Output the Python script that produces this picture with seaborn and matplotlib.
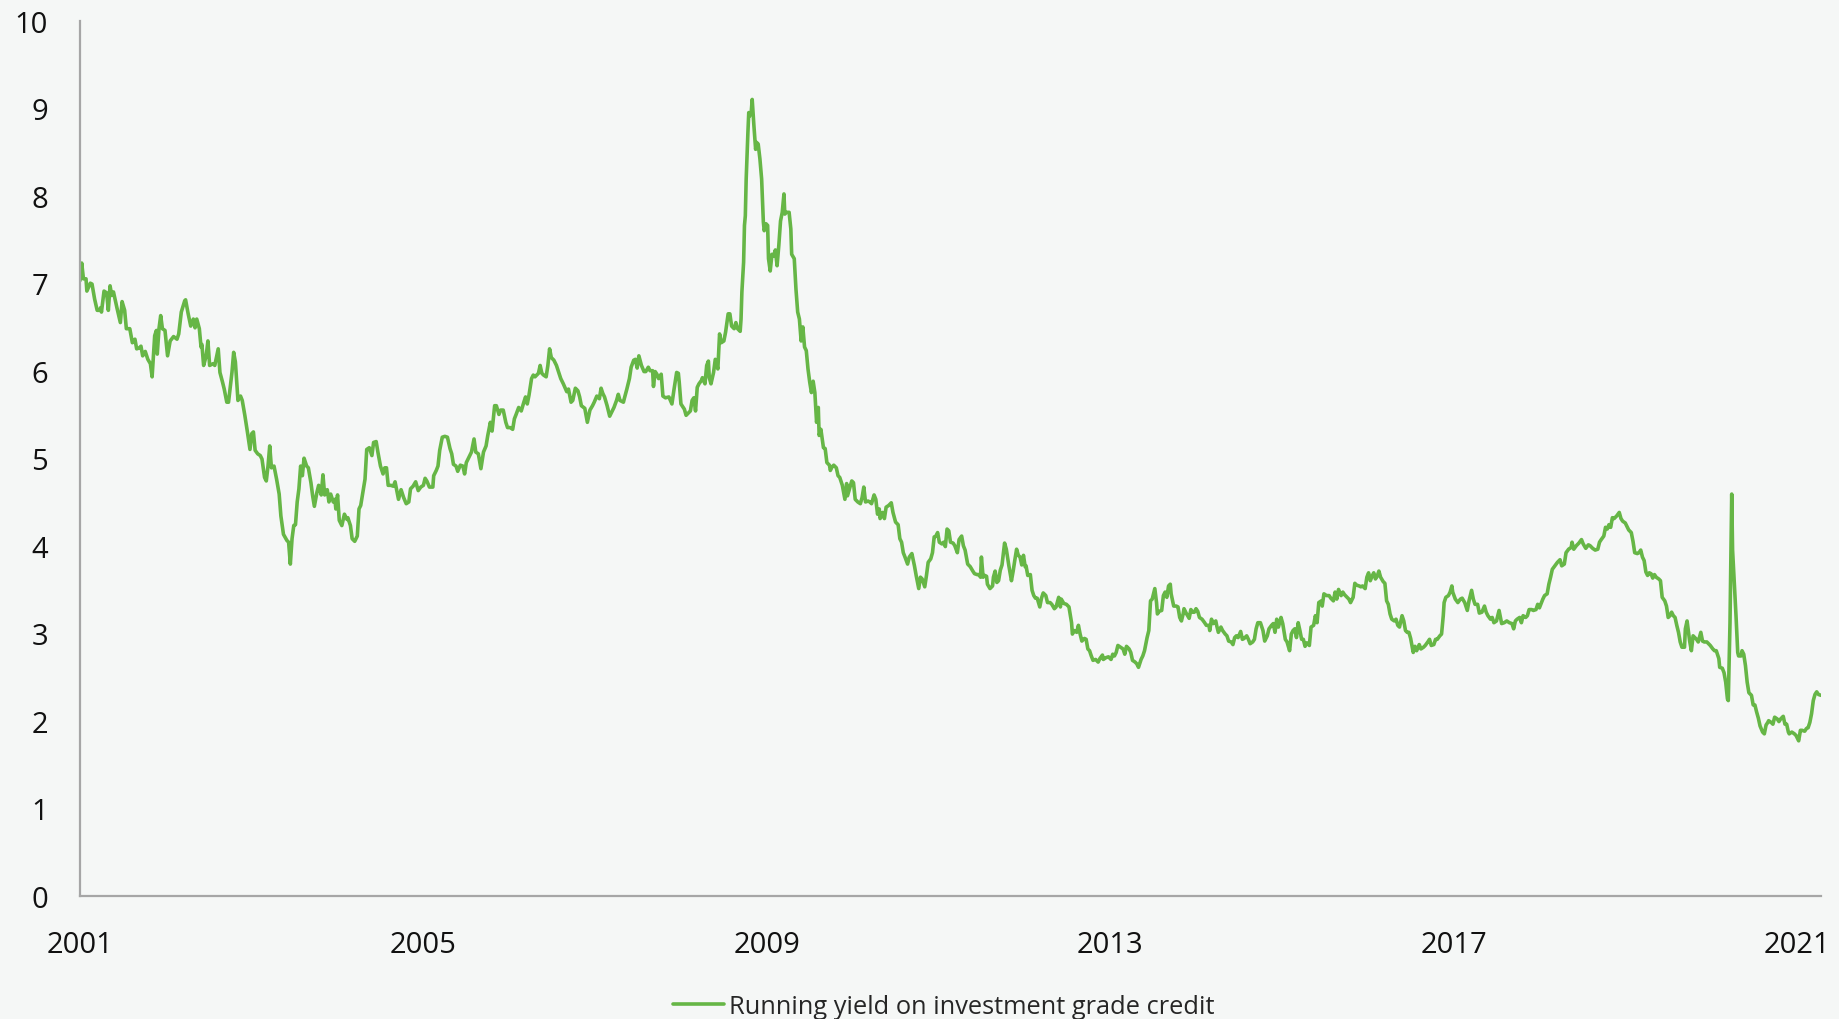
import numpy as np
import pandas as pd
import matplotlib
matplotlib.use("Agg")
import matplotlib.pyplot as plt
import seaborn as sns

# ---------------- data ----------------
yrs_a = [2001.00, 2001.02, 2001.04, 2001.07, 2001.08, 2001.12, 2001.14, 2001.17, 2001.20, 2001.23,
         2001.24, 2001.25, 2001.28, 2001.31, 2001.33, 2001.35, 2001.37, 2001.39, 2001.43, 2001.47,
         2001.49, 2001.52, 2001.54, 2001.58, 2001.61, 2001.64, 2001.66, 2001.69, 2001.71, 2001.73,
         2001.76, 2001.79, 2001.82, 2001.84, 2001.87, 2001.89, 2001.90, 2001.92, 2001.94, 2001.96,
         2001.99, 2002.02, 2002.05, 2002.09, 2002.13, 2002.15, 2002.18, 2002.22, 2002.23, 2002.26,
         2002.29, 2002.32, 2002.34, 2002.36, 2002.39, 2002.41, 2002.42, 2002.44, 2002.47, 2002.49,
         2002.51, 2002.55, 2002.57, 2002.61, 2002.63, 2002.66, 2002.68, 2002.71, 2002.73, 2002.77,
         2002.79, 2002.81, 2002.84, 2002.87, 2002.89, 2002.92, 2002.95, 2002.98, 2003.00, 2003.02,
         2003.04, 2003.07, 2003.10, 2003.12, 2003.15, 2003.17, 2003.19, 2003.21, 2003.23, 2003.26,
         2003.29, 2003.32, 2003.34, 2003.37, 2003.41, 2003.43, 2003.45, 2003.47, 2003.49, 2003.51,
         2003.53, 2003.55, 2003.57, 2003.59, 2003.61, 2003.64, 2003.66, 2003.69, 2003.71, 2003.73,
         2003.76, 2003.78, 2003.81, 2003.83, 2003.85, 2003.88, 2003.90, 2003.92, 2003.95, 2003.97,
         2003.98, 2004.00, 2004.02, 2004.05, 2004.08, 2004.11, 2004.12, 2004.15, 2004.17, 2004.20,
         2004.23, 2004.25, 2004.27, 2004.29, 2004.32, 2004.34, 2004.37, 2004.40, 2004.42]
val_a = [7.03, 7.23, 7.05, 7.05, 6.91, 7.00, 6.99, 6.82, 6.69, 6.69,
         6.72, 6.67, 6.91, 6.89, 6.69, 6.97, 6.86, 6.90, 6.72, 6.55,
         6.79, 6.69, 6.48, 6.48, 6.32, 6.36, 6.25, 6.26, 6.28, 6.17,
         6.22, 6.13, 6.08, 5.93, 6.40, 6.46, 6.19, 6.48, 6.63, 6.48,
         6.46, 6.17, 6.34, 6.39, 6.36, 6.42, 6.67, 6.80, 6.81, 6.65,
         6.51, 6.59, 6.49, 6.59, 6.48, 6.27, 6.30, 6.06, 6.17, 6.34,
         6.06, 6.08, 6.06, 6.25, 5.98, 5.87, 5.79, 5.64, 5.64, 5.98,
         6.21, 6.10, 5.66, 5.71, 5.66, 5.49, 5.30, 5.10, 5.28, 5.30,
         5.09, 5.05, 5.03, 4.99, 4.78, 4.74, 4.91, 5.14, 4.89, 4.91,
         4.76, 4.59, 4.34, 4.13, 4.06, 4.04, 3.79, 4.08, 4.23, 4.24,
         4.50, 4.65, 4.91, 4.80, 5.00, 4.91, 4.89, 4.72, 4.57, 4.45,
         4.61, 4.69, 4.58, 4.81, 4.58, 4.64, 4.50, 4.59, 4.50, 4.53,
         4.42, 4.58, 4.29, 4.23, 4.36, 4.30, 4.32, 4.23, 4.08, 4.05,
         4.11, 4.42, 4.46, 4.58, 4.76, 5.10, 5.12, 5.03, 5.18]

yrs_b = [2004.45, 2004.47, 2004.50, 2004.53, 2004.55, 2004.57, 2004.59, 2004.62, 2004.65, 2004.67,
         2004.69, 2004.71, 2004.74, 2004.77, 2004.80, 2004.83, 2004.85, 2004.88, 2004.91, 2004.94,
         2004.97, 2005.00, 2005.02, 2005.04, 2005.07, 2005.11, 2005.12, 2005.15, 2005.17, 2005.19,
         2005.22, 2005.25, 2005.28, 2005.31, 2005.33, 2005.35, 2005.38, 2005.40, 2005.43, 2005.46,
         2005.48, 2005.50, 2005.53, 2005.56, 2005.59, 2005.61, 2005.64, 2005.67, 2005.70, 2005.73,
         2005.75, 2005.78, 2005.80, 2005.83, 2005.85, 2005.88, 2005.90, 2005.93, 2005.96, 2005.98,
         2006.01, 2006.04, 2006.06, 2006.08, 2006.11, 2006.14, 2006.17, 2006.19, 2006.21, 2006.23,
         2006.26, 2006.28, 2006.30, 2006.34, 2006.36, 2006.38, 2006.40, 2006.43, 2006.45, 2006.47,
         2006.49, 2006.52, 2006.55, 2006.58, 2006.60, 2006.63, 2006.67, 2006.69, 2006.72, 2006.74,
         2006.77, 2006.80, 2006.82, 2006.84, 2006.88, 2006.91, 2006.94, 2006.97, 2006.99, 2007.02,
         2007.05, 2007.07, 2007.09, 2007.11, 2007.14, 2007.17, 2007.19, 2007.22, 2007.25, 2007.27,
         2007.29, 2007.33, 2007.34, 2007.37, 2007.40, 2007.42, 2007.45, 2007.47, 2007.49, 2007.51,
         2007.54, 2007.57, 2007.59, 2007.62, 2007.64, 2007.67, 2007.68, 2007.70, 2007.72, 2007.74,
         2007.77, 2007.79, 2007.82, 2007.86]
val_b = [5.19, 5.07, 4.91, 4.82, 4.89, 4.89, 4.69, 4.69, 4.68, 4.73,
         4.63, 4.53, 4.64, 4.55, 4.48, 4.50, 4.65, 4.68, 4.73, 4.63,
         4.67, 4.69, 4.77, 4.74, 4.67, 4.67, 4.80, 4.86, 4.91, 5.09,
         5.24, 5.25, 5.24, 5.11, 5.05, 4.93, 4.91, 4.85, 4.92, 4.91,
         4.82, 4.95, 5.01, 5.07, 5.22, 5.07, 5.05, 4.88, 5.07, 5.14,
         5.26, 5.41, 5.31, 5.60, 5.60, 5.50, 5.55, 5.55, 5.41, 5.35,
         5.35, 5.33, 5.45, 5.50, 5.58, 5.54, 5.64, 5.70, 5.62, 5.72,
         5.91, 5.95, 5.93, 5.97, 6.06, 5.97, 5.95, 5.93, 6.06, 6.25,
         6.15, 6.12, 6.06, 5.97, 5.91, 5.85, 5.76, 5.79, 5.64, 5.66,
         5.80, 5.77, 5.70, 5.60, 5.57, 5.41, 5.55, 5.60, 5.64, 5.71,
         5.68, 5.80, 5.74, 5.70, 5.60, 5.48, 5.52, 5.58, 5.66, 5.73,
         5.66, 5.64, 5.68, 5.79, 5.91, 6.04, 6.12, 6.13, 6.03, 6.17,
         6.06, 5.99, 5.99, 6.04, 6.00, 6.00, 5.82, 5.99, 5.96, 5.91,
         5.96, 5.71, 5.69, 5.70]

yrs_c = [2007.895, 2007.92, 2007.95, 2007.97, 2007.98, 2008.00, 2008.04, 2008.06, 2008.09, 2008.11,
         2008.13, 2008.15, 2008.17, 2008.19, 2008.21, 2008.24, 2008.25, 2008.28, 2008.30, 2008.32,
         2008.33, 2008.35, 2008.38, 2008.40, 2008.43, 2008.45, 2008.47, 2008.50, 2008.52, 2008.55,
         2008.57, 2008.59, 2008.62, 2008.64, 2008.66, 2008.69, 2008.70, 2008.71, 2008.73, 2008.74,
         2008.75, 2008.76, 2008.78, 2008.79, 2008.80, 2008.82, 2008.83, 2008.85, 2008.87, 2008.88,
         2008.90, 2008.92, 2008.94, 2008.96, 2008.97, 2008.99, 2009.01, 2009.02, 2009.04, 2009.06,
         2009.08, 2009.10, 2009.12, 2009.14, 2009.16, 2009.18, 2009.20, 2009.21, 2009.23, 2009.26,
         2009.28, 2009.29, 2009.32, 2009.34, 2009.36, 2009.38, 2009.40, 2009.42, 2009.44, 2009.46,
         2009.48, 2009.50, 2009.52, 2009.54, 2009.56, 2009.58, 2009.60, 2009.61, 2009.63, 2009.66,
         2009.68, 2009.70, 2009.73, 2009.74, 2009.76, 2009.78, 2009.81, 2009.83, 2009.85, 2009.88,
         2009.91, 2009.93, 2009.94, 2009.97, 2009.99, 2010.01, 2010.03, 2010.06, 2010.09, 2010.11,
         2010.13, 2010.15, 2010.18, 2010.20, 2010.22, 2010.25, 2010.27, 2010.29, 2010.31, 2010.32,
         2010.35, 2010.37, 2010.39, 2010.42, 2010.45, 2010.47, 2010.50, 2010.53, 2010.55, 2010.57,
         2010.59, 2010.61, 2010.64, 2010.66, 2010.69, 2010.72, 2010.74, 2010.77, 2010.79, 2010.81,
         2010.84, 2010.86, 2010.88, 2010.91, 2010.93, 2010.95, 2010.97, 2010.99, 2011.01, 2011.04,
         2011.06, 2011.08, 2011.10, 2011.12, 2011.14, 2011.17, 2011.19, 2011.22, 2011.24, 2011.27,
         2011.29]
val_c = [5.62, 5.79, 5.98, 5.97, 5.87, 5.62, 5.56, 5.49, 5.52, 5.54,
         5.66, 5.69, 5.54, 5.81, 5.85, 5.89, 5.92, 5.85, 6.06, 6.11,
         5.92, 5.85, 5.98, 6.13, 6.02, 6.42, 6.32, 6.34, 6.44, 6.65,
         6.65, 6.51, 6.48, 6.55, 6.48, 6.45, 6.59, 6.90, 7.24, 7.66,
         7.77, 8.19, 8.72, 8.95, 8.91, 8.97, 9.10, 8.80, 8.53, 8.61,
         8.59, 8.42, 8.19, 7.70, 7.60, 7.68, 7.66, 7.28, 7.14, 7.33,
         7.31, 7.38, 7.20, 7.43, 7.71, 7.81, 8.02, 7.79, 7.81, 7.81,
         7.62, 7.33, 7.28, 6.93, 6.67, 6.59, 6.34, 6.50, 6.27, 6.23,
         6.02, 5.87, 5.75, 5.88, 5.75, 5.41, 5.58, 5.26, 5.33, 5.12,
         5.11, 4.95, 4.92, 4.86, 4.90, 4.92, 4.89, 4.80, 4.78, 4.69,
         4.53, 4.71, 4.57, 4.67, 4.74, 4.72, 4.53, 4.50, 4.48, 4.55,
         4.67, 4.50, 4.51, 4.50, 4.48, 4.58, 4.53, 4.36, 4.42, 4.31,
         4.38, 4.31, 4.44, 4.46, 4.49, 4.38, 4.27, 4.24, 4.08, 4.04,
         3.92, 3.87, 3.79, 3.87, 3.91, 3.77, 3.66, 3.51, 3.64, 3.62,
         3.53, 3.66, 3.81, 3.85, 3.92, 4.10, 4.11, 4.15, 4.04, 4.02,
         4.04, 3.99, 4.19, 4.17, 4.04, 4.03, 4.00, 3.92, 4.07, 4.11,
         4.00]

yrs_d = [2011.31, 2011.34, 2011.37, 2011.40, 2011.42, 2011.45, 2011.47, 2011.49, 2011.50, 2011.52,
         2011.54, 2011.56, 2011.57, 2011.60, 2011.63, 2011.64, 2011.66, 2011.68, 2011.70, 2011.72,
         2011.74, 2011.77, 2011.79, 2011.82, 2011.85, 2011.87, 2011.89, 2011.91, 2011.93, 2011.95,
         2011.97, 2011.99, 2012.01, 2012.02, 2012.04, 2012.07, 2012.09, 2012.11, 2012.13, 2012.15,
         2012.18, 2012.20, 2012.22, 2012.25, 2012.27, 2012.30, 2012.32, 2012.35, 2012.37, 2012.40,
         2012.42, 2012.43, 2012.46, 2012.49, 2012.52, 2012.55, 2012.56, 2012.58, 2012.61, 2012.63,
         2012.65, 2012.67, 2012.70, 2012.72, 2012.74, 2012.76, 2012.78, 2012.80, 2012.83, 2012.86,
         2012.88, 2012.91, 2012.92, 2012.95, 2012.98, 2013.01, 2013.03, 2013.05, 2013.07, 2013.09,
         2013.12, 2013.15, 2013.17, 2013.19, 2013.22, 2013.24, 2013.26, 2013.29, 2013.31, 2013.33,
         2013.36, 2013.38, 2013.40, 2013.43, 2013.45, 2013.47, 2013.49, 2013.52, 2013.54, 2013.55,
         2013.57, 2013.60, 2013.62, 2013.64, 2013.66, 2013.68, 2013.70, 2013.71, 2013.74, 2013.77,
         2013.79, 2013.81, 2013.83, 2013.85, 2013.86, 2013.89, 2013.92, 2013.94, 2013.96, 2013.98,
         2014.00, 2014.02, 2014.04, 2014.07, 2014.10, 2014.12, 2014.15, 2014.16, 2014.18, 2014.20,
         2014.23, 2014.24, 2014.26, 2014.29, 2014.31, 2014.34, 2014.36, 2014.38, 2014.41, 2014.43,
         2014.45, 2014.47, 2014.49, 2014.52, 2014.54, 2014.56, 2014.59, 2014.61, 2014.63, 2014.66,
         2014.68, 2014.70, 2014.72]
val_d = [3.95, 3.79, 3.76, 3.71, 3.68, 3.67, 3.67, 3.64, 3.87, 3.64,
         3.66, 3.65, 3.56, 3.51, 3.54, 3.64, 3.71, 3.58, 3.60, 3.72,
         3.78, 4.03, 3.96, 3.77, 3.60, 3.71, 3.84, 3.96, 3.89, 3.87,
         3.78, 3.89, 3.76, 3.77, 3.66, 3.67, 3.49, 3.43, 3.40, 3.40,
         3.30, 3.40, 3.46, 3.43, 3.35, 3.35, 3.33, 3.28, 3.30, 3.41,
         3.30, 3.39, 3.34, 3.33, 3.30, 3.12, 2.99, 3.03, 3.01, 3.09,
         2.99, 2.91, 2.94, 2.93, 2.82, 2.80, 2.74, 2.69, 2.70, 2.67,
         2.71, 2.75, 2.70, 2.72, 2.73, 2.70, 2.76, 2.74, 2.78, 2.86,
         2.84, 2.82, 2.76, 2.85, 2.82, 2.78, 2.69, 2.67, 2.65, 2.61,
         2.70, 2.74, 2.80, 2.95, 3.03, 3.37, 3.39, 3.51, 3.35, 3.22,
         3.25, 3.26, 3.43, 3.47, 3.41, 3.54, 3.56, 3.45, 3.31, 3.31,
         3.30, 3.18, 3.14, 3.22, 3.28, 3.22, 3.17, 3.27, 3.24, 3.24,
         3.28, 3.25, 3.18, 3.16, 3.12, 3.09, 3.09, 3.03, 3.16, 3.11,
         3.14, 3.09, 3.01, 3.07, 3.03, 2.99, 2.97, 2.91, 2.90, 2.87,
         2.95, 2.97, 2.95, 3.02, 2.93, 2.94, 2.97, 2.93, 2.88, 2.90,
         2.93, 3.05, 3.12]

yrs_e = [2014.75, 2014.78, 2014.80, 2014.83, 2014.85, 2014.88, 2014.90, 2014.92, 2014.94, 2014.96,
         2014.99, 2015.01, 2015.04, 2015.06, 2015.09, 2015.11, 2015.13, 2015.15, 2015.17, 2015.19,
         2015.21, 2015.23, 2015.25, 2015.27, 2015.29, 2015.32, 2015.34, 2015.37, 2015.39, 2015.41,
         2015.43, 2015.46, 2015.47, 2015.49, 2015.52, 2015.55, 2015.57, 2015.60, 2015.62, 2015.64,
         2015.66, 2015.69, 2015.71, 2015.73, 2015.76, 2015.78, 2015.80, 2015.83, 2015.85, 2015.87,
         2015.90, 2015.92, 2015.94, 2015.97, 2015.99, 2016.01, 2016.03, 2016.05, 2016.07, 2016.09,
         2016.11, 2016.13, 2016.15, 2016.18, 2016.20, 2016.22, 2016.24, 2016.26, 2016.28, 2016.31,
         2016.33, 2016.35, 2016.37, 2016.40, 2016.42, 2016.44, 2016.46, 2016.48, 2016.50, 2016.53,
         2016.55, 2016.57, 2016.60, 2016.62, 2016.65, 2016.67, 2016.70, 2016.72, 2016.74, 2016.77,
         2016.79, 2016.81, 2016.84, 2016.86, 2016.88, 2016.89, 2016.91, 2016.94, 2016.96, 2016.98,
         2016.99, 2017.02, 2017.05, 2017.08, 2017.10, 2017.13, 2017.16, 2017.18, 2017.21, 2017.23,
         2017.25, 2017.28, 2017.30, 2017.33, 2017.36, 2017.38, 2017.40, 2017.43, 2017.45, 2017.47,
         2017.50, 2017.53, 2017.56, 2017.59, 2017.62, 2017.65, 2017.68, 2017.70, 2017.72, 2017.74,
         2017.77, 2017.79, 2017.81, 2017.84, 2017.86, 2017.88, 2017.91, 2017.93, 2017.96, 2017.98,
         2018.00, 2018.02, 2018.04, 2018.06, 2018.09, 2018.11, 2018.13, 2018.15]
val_e = [3.12, 3.03, 2.91, 2.97, 3.05, 3.09, 3.11, 3.01, 3.16, 3.07,
         3.18, 3.11, 2.93, 2.90, 2.80, 2.99, 3.03, 3.05, 2.95, 3.12,
         3.03, 2.93, 2.93, 2.85, 2.89, 2.86, 3.07, 3.09, 3.20, 3.12,
         3.35, 3.37, 3.31, 3.45, 3.43, 3.43, 3.40, 3.37, 3.47, 3.39,
         3.50, 3.43, 3.47, 3.44, 3.41, 3.39, 3.35, 3.41, 3.57, 3.55,
         3.54, 3.53, 3.54, 3.51, 3.64, 3.69, 3.60, 3.65, 3.69, 3.62,
         3.65, 3.71, 3.64, 3.59, 3.57, 3.37, 3.33, 3.22, 3.16, 3.14,
         3.16, 3.09, 3.07, 3.20, 3.14, 3.03, 3.01, 3.01, 2.94, 2.78,
         2.85, 2.80, 2.87, 2.82, 2.84, 2.86, 2.90, 2.93, 2.86, 2.87,
         2.93, 2.93, 2.97, 2.99, 3.20, 3.35, 3.41, 3.43, 3.47, 3.54,
         3.47, 3.39, 3.35, 3.39, 3.40, 3.35, 3.26, 3.37, 3.49, 3.39,
         3.33, 3.33, 3.23, 3.24, 3.31, 3.24, 3.20, 3.16, 3.18, 3.12,
         3.14, 3.26, 3.11, 3.12, 3.14, 3.12, 3.11, 3.05, 3.14, 3.16,
         3.18, 3.12, 3.20, 3.18, 3.20, 3.27, 3.27, 3.26, 3.27, 3.33,
         3.29, 3.34, 3.39, 3.43, 3.45, 3.56, 3.64, 3.73]

yrs_f = [2018.18, 2018.21, 2018.24, 2018.26, 2018.29, 2018.31, 2018.34, 2018.37, 2018.38, 2018.40,
         2018.43, 2018.46, 2018.49, 2018.51, 2018.54, 2018.57, 2018.59, 2018.62, 2018.65, 2018.68,
         2018.70, 2018.72, 2018.75, 2018.77, 2018.79, 2018.81, 2018.83, 2018.85, 2018.87, 2018.90,
         2018.93, 2018.95, 2018.97, 2019.00, 2019.02, 2019.04, 2019.07, 2019.09, 2019.11, 2019.14,
         2019.16, 2019.18, 2019.20, 2019.22, 2019.24, 2019.26, 2019.28, 2019.30, 2019.32, 2019.34,
         2019.36, 2019.39, 2019.41, 2019.43, 2019.46, 2019.48, 2019.50, 2019.52, 2019.54, 2019.56,
         2019.58, 2019.60, 2019.62, 2019.64, 2019.66, 2019.69, 2019.70, 2019.72, 2019.74, 2019.75,
         2019.77, 2019.79, 2019.81, 2019.83, 2019.85, 2019.88, 2019.90, 2019.92, 2019.95, 2019.97,
         2019.99, 2020.02, 2020.04, 2020.06, 2020.09, 2020.10, 2020.13, 2020.15, 2020.17, 2020.19,
         2020.20, 2020.22, 2020.24, 2020.25, 2020.27, 2020.29, 2020.31, 2020.32, 2020.35, 2020.36,
         2020.38, 2020.40, 2020.42, 2020.44, 2020.47, 2020.49, 2020.51, 2020.53, 2020.55, 2020.57,
         2020.60, 2020.62, 2020.64, 2020.66, 2020.67, 2020.70, 2020.72, 2020.74, 2020.77, 2020.79,
         2020.81, 2020.84, 2020.86, 2020.88, 2020.90, 2020.91, 2020.94, 2020.97, 2020.99, 2021.01,
         2021.02, 2021.04, 2021.06, 2021.09, 2021.11, 2021.13, 2021.15, 2021.17, 2021.19, 2021.21,
         2021.23, 2021.25, 2021.28]
val_f = [3.77, 3.81, 3.84, 3.77, 3.79, 3.92, 3.96, 3.98, 4.04, 3.96,
         4.00, 4.03, 4.07, 4.02, 3.97, 4.01, 4.00, 3.97, 3.95, 3.96,
         4.04, 4.07, 4.11, 4.21, 4.19, 4.24, 4.21, 4.32, 4.31, 4.34,
         4.38, 4.31, 4.28, 4.26, 4.22, 4.18, 4.15, 4.05, 3.92, 3.91,
         3.92, 3.95, 3.87, 3.83, 3.70, 3.66, 3.69, 3.68, 3.63, 3.67,
         3.64, 3.62, 3.60, 3.41, 3.37, 3.31, 3.18, 3.20, 3.24, 3.20,
         3.18, 3.09, 3.01, 2.90, 2.84, 2.84, 3.05, 3.14, 2.99, 2.91,
         2.80, 2.97, 2.95, 2.93, 2.90, 3.01, 2.91, 2.90, 2.90, 2.88,
         2.86, 2.82, 2.80, 2.80, 2.71, 2.61, 2.60, 2.55, 2.44, 2.25,
         2.23, 3.12, 4.59, 3.95, 3.58, 3.20, 2.78, 2.74, 2.74, 2.80,
         2.76, 2.63, 2.44, 2.32, 2.29, 2.18, 2.18, 2.10, 2.03, 1.94,
         1.87, 1.85, 1.95, 1.98, 2.00, 1.98, 1.96, 2.04, 2.02, 1.99,
         2.02, 2.05, 1.96, 1.96, 1.87, 1.85, 1.87, 1.85, 1.83, 1.79,
         1.77, 1.89, 1.89, 1.88, 1.91, 1.92, 1.98, 2.08, 2.23, 2.30,
         2.33, 2.30, 2.29]

year_ticks = [2001, 2005, 2009, 2013, 2017, 2021]
yield_ticks = [0, 1, 2, 3, 4, 5, 6, 7, 8, 9, 10]
series_label = "Running yield on investment grade credit"

df = pd.DataFrame({
    "year": yrs_a + yrs_b + yrs_c + yrs_d + yrs_e + yrs_f,
    "yield": val_a + val_b + val_c + val_d + val_e + val_f,
})

# ---------------- style ----------------
BG = "#F5F7F6"
GREEN = "#66B646"
SPINE = "#A6A6A6"

sns.set_style("white", {"axes.facecolor": BG, "figure.facecolor": BG})
plt.rcParams["font.family"] = ["Open Sans", "DejaVu Sans"]

W, H = 1839, 1020
fig = plt.figure(figsize=(W / 100, H / 100), dpi=100, facecolor=BG)
ax = fig.add_axes([80 / W, 1 - 896.7 / H, (1821 - 80) / W, (896.7 - 21.7) / H])
ax.set_facecolor(BG)

sns.lineplot(data=df, x="year", y="yield", ax=ax, color=GREEN, linewidth=2.6,
             estimator=None, sort=False, label=series_label, legend=False)

ax.set_xlim(2001, 2021.28)
ax.set_ylim(0, 10)
ax.set_xticks(year_ticks)
ax.set_xticklabels([str(t) for t in year_ticks])
ax.set_yticks(yield_ticks)
ax.set_yticklabels([str(t) for t in yield_ticks])
ax.set_xlabel("")
ax.set_ylabel("")
ax.tick_params(axis="both", length=0, labelsize=21, colors="#111111")
ax.tick_params(axis="x", pad=24.5)
ax.tick_params(axis="y", pad=23)
ax.grid(False)

for side in ["top", "right"]:
    ax.spines[side].set_visible(False)
for side in ["left", "bottom"]:
    ax.spines[side].set_color(SPINE)
    ax.spines[side].set_linewidth(1.6)

handles, labels = ax.get_legend_handles_labels()
fig.legend(handles, labels, loc="center", bbox_to_anchor=(0.513, 1 - 1007.5 / H),
           frameon=False, fontsize=18.3, handlelength=2.0, handletextpad=0.2,
           borderaxespad=0, borderpad=0)

fig.savefig("out.png", dpi=100, facecolor=BG)
